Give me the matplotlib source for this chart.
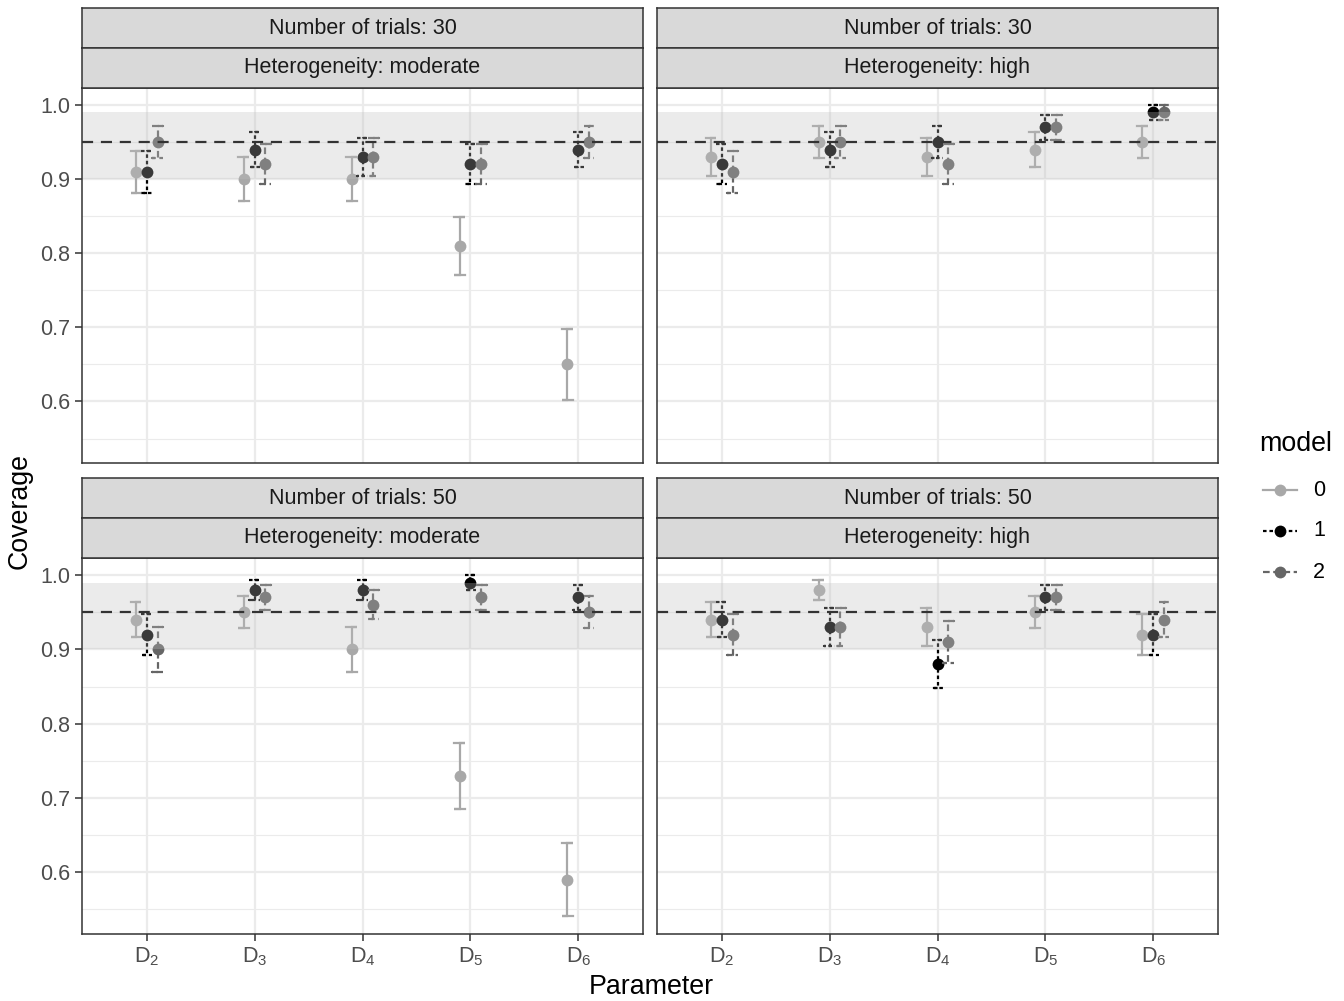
import numpy as np
import matplotlib.pyplot as plt
from matplotlib.lines import Line2D

plt.rcParams['font.family'] = ['Liberation Sans', 'DejaVu Sans']
plt.rcParams['mathtext.fontset'] = 'custom'
plt.rcParams['mathtext.rm'] = 'Liberation Sans'

# ---- data ----
params = ['D2', 'D3', 'D4', 'D5', 'D6']
tick_labels = [r'$\mathregular{D_2}$', r'$\mathregular{D_3}$', r'$\mathregular{D_4}$',
               r'$\mathregular{D_5}$', r'$\mathregular{D_6}$']
models = ['0', '1', '2']
trials = ['30', '30', '50', '50']
heterogeneity = ['moderate', 'high', 'moderate', 'high']

# coverage per panel, rows = model 0, 1, 2
cov_30_moderate = [[0.91, 0.90, 0.90, 0.81, 0.65],
                   [0.91, 0.94, 0.93, 0.92, 0.94],
                   [0.95, 0.92, 0.93, 0.92, 0.95]]
cov_30_high = [[0.93, 0.95, 0.93, 0.94, 0.95],
               [0.92, 0.94, 0.95, 0.97, 0.99],
               [0.91, 0.95, 0.92, 0.97, 0.99]]
cov_50_moderate = [[0.94, 0.95, 0.90, 0.73, 0.59],
                   [0.92, 0.98, 0.98, 0.99, 0.97],
                   [0.90, 0.97, 0.96, 0.97, 0.95]]
cov_50_high = [[0.94, 0.98, 0.93, 0.95, 0.92],
               [0.94, 0.93, 0.88, 0.97, 0.92],
               [0.92, 0.93, 0.91, 0.97, 0.94]]

# error-bar half widths per panel
se_30_moderate = [[0.0286, 0.0300, 0.0300, 0.0392, 0.0477],
                  [0.0286, 0.0237, 0.0255, 0.0271, 0.0237],
                  [0.0218, 0.0271, 0.0255, 0.0271, 0.0218]]
se_30_high = [[0.0255, 0.0218, 0.0255, 0.0237, 0.0218],
              [0.0271, 0.0237, 0.0218, 0.0171, 0.0099],
              [0.0286, 0.0218, 0.0271, 0.0171, 0.0099]]
se_50_moderate = [[0.0237, 0.0218, 0.0300, 0.0444, 0.0492],
                  [0.0271, 0.0140, 0.0140, 0.0099, 0.0171],
                  [0.0300, 0.0171, 0.0196, 0.0171, 0.0218]]
se_50_high = [[0.0237, 0.0140, 0.0255, 0.0218, 0.0271],
              [0.0237, 0.0255, 0.0325, 0.0171, 0.0271],
              [0.0271, 0.0255, 0.0286, 0.0171, 0.0237]]

covs = [cov_30_moderate, cov_30_high, cov_50_moderate, cov_50_high]
ses = [se_30_moderate, se_30_high, se_50_moderate, se_50_high]

nominal = 0.95
band = (0.90, 0.99)

# ---- style ----
colors = ['#A8A8A8', '#000000', '#666666']
dashes = [None, (1.6, 1.3), (3.0, 1.6)]
offsets = [-0.1, 0.0, 0.1]
capw = 0.05
lw = 1.6

W, H = 1344, 1001
fig = plt.figure(figsize=(W / 100, H / 100), dpi=100)

def fx(px):
    return px / W

def fy(px):
    return 1 - px / H

panel_x = [(82, 643), (657, 1218), (82, 643), (657, 1218)]
panel_y = [(88, 463), (88, 463), (558, 934), (558, 934)]

x = np.arange(1, len(params) + 1)

for p in range(4):
    x0, x1 = panel_x[p]
    y0, y1 = panel_y[p]
    ax = fig.add_axes([fx(x0), fy(y1), fx(x1 - x0), (y1 - y0) / H])
    ax.set_xlim(0.4, 5.6)
    ax.set_ylim(0.517, 1.023)
    ax.set_facecolor('white')
    ax.set_yticks([0.6, 0.7, 0.8, 0.9, 1.0])
    ax.set_yticks([0.55, 0.65, 0.75, 0.85, 0.95], minor=True)
    ax.set_xticks(x)
    ax.grid(which='major', color='#EBEBEB', lw=1.6, zorder=0)
    ax.grid(which='minor', axis='y', color='#EBEBEB', lw=0.8, zorder=0)
    ax.set_axisbelow(True)
    for s in ax.spines.values():
        s.set_color('#333333')
        s.set_linewidth(1.1)
        s.set_zorder(10)

    for m in range(3):
        xs = x + offsets[m]
        c = np.array(covs[p][m])
        e = np.array(ses[p][m])
        for xi, ci, ei in zip(xs, c, e):
            lo, hi = ci - ei, ci + ei
            px_ = [xi - capw, xi + capw, xi, xi, xi - capw, xi + capw]
            py_ = [hi, hi, hi, lo, lo, lo]
            ln, = ax.plot(px_, py_, color=colors[m], lw=lw, zorder=2 + m,
                          solid_joinstyle='miter', dash_capstyle='butt')
            if dashes[m] is not None:
                ln.set_dashes(dashes[m])
        ax.plot(xs, c, 'o', color=colors[m], ms=8.5, mec='none', zorder=2.5 + m)

    ax.axhspan(band[0], band[1], color='#BEBEBE', alpha=0.3, lw=0, zorder=6)
    ax.axhline(nominal, color='#333333', lw=1.6, dashes=(5, 3.5), zorder=7)

    ax.tick_params(axis='both', which='both', colors='#333333', labelcolor='#4D4D4D',
                   labelsize=15.5, length=5, width=1.1)
    ax.tick_params(axis='both', which='minor', length=0)
    if p % 2 == 0:
        ax.set_yticklabels(['0.6', '0.7', '0.8', '0.9', '1.0'])
    else:
        ax.tick_params(axis='y', which='both', left=False, labelleft=False)
    if p >= 2:
        ax.set_xticklabels(tick_labels)
    else:
        ax.tick_params(axis='x', bottom=False, labelbottom=False)

    # strips
    strip_texts = ['Number of trials: %s' % trials[p], 'Heterogeneity: %s' % heterogeneity[p]]
    for k, txt in enumerate(strip_texts):
        sy0 = y0 - 80 + 40 * k
        sax = fig.add_axes([fx(x0), fy(sy0 + 40), fx(x1 - x0), 40 / H])
        sax.set_facecolor('#D9D9D9')
        sax.set_xticks([])
        sax.set_yticks([])
        for s in sax.spines.values():
            s.set_color('#333333')
            s.set_linewidth(1.1)
        sax.text(0.5, 0.5, txt, ha='center', va='center', fontsize=15.5,
                 color='#1A1A1A', transform=sax.transAxes)

fig.text(fx(20), fy(511), 'Coverage', rotation=90, ha='center', va='center',
         fontsize=19.3, color='black')
fig.text(fx(651), fy(987), 'Parameter', ha='center', va='center',
         fontsize=19.3, color='black')

# legend drawn by hand
fig.text(fx(1259), fy(444), 'model', ha='left', va='center', fontsize=19.3, color='black')
key_y = [490, 531, 572]
for m in range(3):
    ky = fy(key_y[m])
    kl = Line2D([fx(1263), fx(1297)], [ky, ky], color=colors[m], lw=lw,
                transform=fig.transFigure)
    if dashes[m] is not None:
        kl.set_dashes(dashes[m])
    fig.add_artist(kl)
    fig.add_artist(Line2D([fx(1280)], [ky], marker='o', ms=8.5, color=colors[m],
                          mec='none', transform=fig.transFigure))
    fig.text(fx(1313), ky, models[m], ha='left', va='center', fontsize=15.5, color='black')

fig.savefig('out.png', dpi=100)
